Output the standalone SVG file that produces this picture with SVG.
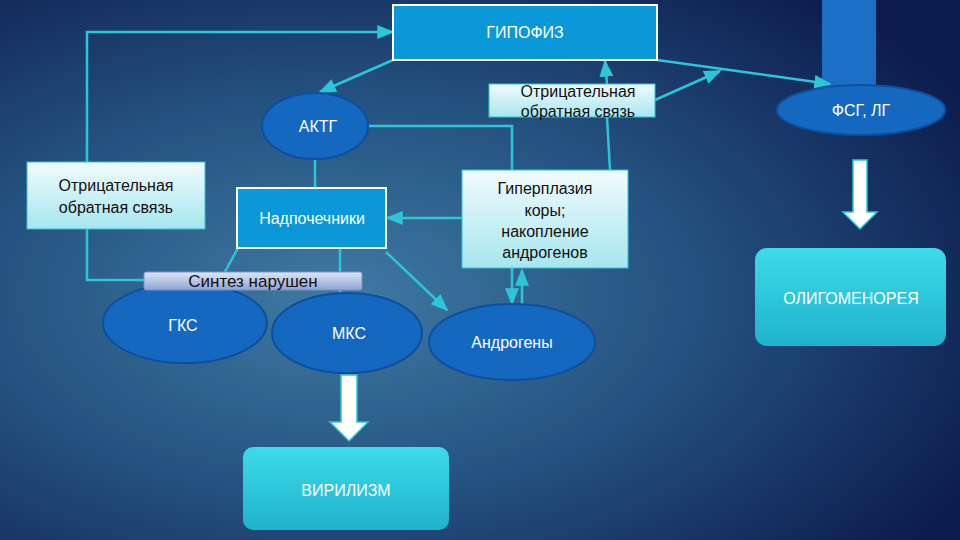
<svg xmlns="http://www.w3.org/2000/svg" width="960" height="540" viewBox="0 0 960 540">
<defs>
<radialGradient id="bg" cx="0.35" cy="0.55" r="0.75">
<stop offset="0" stop-color="#3f7aa3"/><stop offset="0.5" stop-color="#24517f"/><stop offset="1" stop-color="#0c1c4e"/>
</radialGradient>
<linearGradient id="light" x1="0" y1="0" x2="0" y2="1"><stop offset="0" stop-color="#f2fbfd"/><stop offset="1" stop-color="#a6e6ef"/></linearGradient>
<linearGradient id="teal" x1="0" y1="0" x2="0" y2="1"><stop offset="0" stop-color="#3ddbea"/><stop offset="1" stop-color="#1fb2cc"/></linearGradient>
<linearGradient id="lav" x1="0" y1="0" x2="0" y2="1"><stop offset="0" stop-color="#dfe6f7"/><stop offset="1" stop-color="#8fa4d4"/></linearGradient>
<marker id="ar" viewBox="0 0 10 10" refX="9" refY="5" markerWidth="7" markerHeight="7" orient="auto-start-reverse"><path d="M0,1 L10,5 L0,9 z" fill="#2cc6da"/></marker>
<style>
.c{fill:none;stroke:#2cc6da;stroke-width:2.5}
.a{marker-end:url(#ar)}
.t{font-family:"Liberation Sans",Arial,sans-serif;font-size:16px;text-anchor:middle}
.w{fill:#ffffff}
.k{fill:#111111}
.el{fill:#1568c0;stroke:#0e4e9e;stroke-width:2}
.bx{fill:#0a98d8;stroke:#ffffff;stroke-width:2}
.lb{fill:url(#light);stroke:#2cc6da;stroke-width:1}
</style>
</defs>
<rect width="960" height="540" fill="url(#bg)"/>
<rect x="822" y="0" width="54" height="86" fill="#1a6fc4"/>
<g id="connectors">
<polyline class="c a" points="87,162 87,32 393,32"/>
<polyline class="c" points="87,229 87,280 144,280"/>
<line class="c a" x1="393" y1="60" x2="320" y2="92"/>
<polyline class="c" points="368,126 512,126 512,170"/>
<line class="c" x1="315" y1="160" x2="315" y2="188"/>
<line class="c a" x1="462" y1="218" x2="387" y2="218"/>
<line class="c" x1="238" y1="248" x2="215" y2="290"/>
<line class="c" x1="340" y1="248" x2="340" y2="293"/>
<line class="c a" x1="386" y1="252" x2="447" y2="310"/>
<line class="c a" x1="512" y1="268" x2="512" y2="304"/>
<line class="c a" x1="522" y1="304" x2="522" y2="270"/>
<polyline class="c a" points="610,170 607,117 607,84 605,61"/>
<line class="c a" x1="655" y1="100" x2="720" y2="71"/>
<line class="c a" x1="657" y1="60" x2="830" y2="84"/>
</g>
<g id="gipofiz"><rect class="bx" x="393" y="5" width="264" height="55"/><text class="t w" x="525" y="38">ГИПОФИЗ</text></g>
<g id="aktg"><ellipse class="el" cx="315" cy="126" rx="53" ry="33"/><text class="t w" x="318" y="132">АКТГ</text></g>
<g id="feedback-left"><rect class="lb" x="27" y="162" width="178" height="67"/><text class="t k" x="116" y="191">Отрицательная</text><text class="t k" x="116" y="213">обратная связь</text></g>
<g id="feedback-top"><rect class="lb" x="489" y="84" width="166" height="33"/><text class="t k" x="578" y="97">Отрицательная</text><text class="t k" x="578" y="117">обратная связь</text></g>
<g id="nadpochechniki"><rect class="bx" x="237" y="188" width="149" height="60"/><text class="t w" x="312" y="224">Надпочечники</text></g>
<g id="giperplazia"><rect class="lb" x="462" y="170" width="166" height="98"/><text class="t k" x="545" y="194">Гиперплазия</text><text class="t k" x="545" y="216">коры;</text><text class="t k" x="545" y="237">накопление</text><text class="t k" x="545" y="258">андрогенов</text></g>
<g id="fsg"><ellipse class="el" cx="861" cy="110" rx="84" ry="25"/><text class="t w" x="861" y="116">ФСГ, ЛГ</text></g>
<g id="arrow-right"><path d="M853,160 H867 V212 H877 L860,229 L843,212 H853 Z" fill="#ffffff" stroke="#2cc6da" stroke-width="1.5"/></g>
<g id="oligomenorea"><rect x="755" y="248" width="191" height="98" rx="12" fill="url(#teal)"/><text class="t w" x="851" y="304">ОЛИГОМЕНОРЕЯ</text></g>
<g id="gks"><ellipse class="el" cx="185" cy="323" rx="82" ry="40"/><text class="t w" x="183" y="331">ГКС</text></g>
<g id="mks"><ellipse class="el" cx="347" cy="333" rx="75" ry="40"/><text class="t w" x="349" y="339">МКС</text></g>
<g id="androgeny"><ellipse class="el" cx="512" cy="342" rx="83" ry="38"/><text class="t w" x="512" y="348">Андрогены</text></g>
<g id="sintez"><rect x="144" y="272" width="218" height="18" rx="2" fill="url(#lav)" stroke="#7a90c8" stroke-width="1"/><text class="t k" x="253" y="287" style="font-size:17px">Синтез нарушен</text></g>
<g id="arrow-mid"><path d="M341,375 H357 V422 H368 L349,441 L330,422 H341 Z" fill="#ffffff" stroke="#2cc6da" stroke-width="1.5"/></g>
<g id="virilizm"><rect x="243" y="447" width="206" height="83" rx="10" fill="url(#teal)"/><text class="t w" x="346" y="496">ВИРИЛИЗМ</text></g>
</svg>
